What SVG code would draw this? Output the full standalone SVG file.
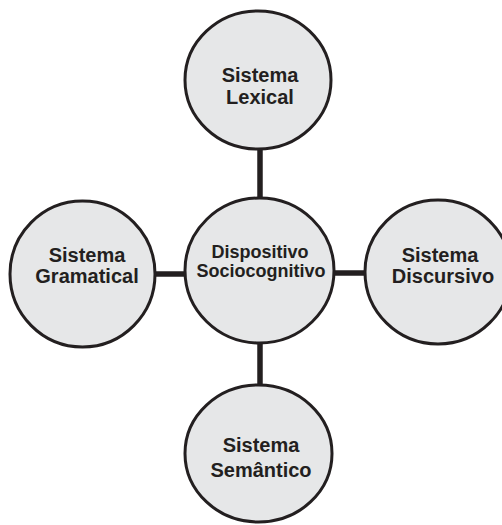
<svg xmlns="http://www.w3.org/2000/svg" width="502" height="525" viewBox="0 0 502 525">
<style>
.n{fill:#e6e7e8;stroke:#231f20;stroke-width:3}
.c{stroke:#231f20;stroke-width:5.5;fill:none}
.t{font-family:"Liberation Sans",Arial,sans-serif;font-weight:bold;font-size:20px;fill:#231f20;text-anchor:middle}
.s{font-size:18px}
</style>
<rect width="502" height="525" fill="#ffffff"/>
<g id="connectors">
<line class="c" x1="260" y1="148" x2="260" y2="199"/>
<line class="c" x1="260" y1="342" x2="260" y2="386"/>
<line class="c" x1="154" y1="274" x2="186" y2="274"/>
<line class="c" x1="333" y1="273" x2="366" y2="273"/>
</g>
<g id="lexical">
<ellipse class="n" cx="258" cy="80" rx="73" ry="69"/>
<text class="t" x="260" y="82">Sistema</text>
<text class="t" x="260" y="104">Lexical</text>
</g>
<g id="dispositivo">
<ellipse class="n" cx="259.5" cy="270.5" rx="74.5" ry="72.5"/>
<text class="t s" x="260" y="258">Dispositivo</text>
<text class="t s" x="261" y="277">Sociocognitivo</text>
</g>
<g id="gramatical">
<ellipse class="n" cx="82.5" cy="274" rx="72.5" ry="73"/>
<text class="t" x="87" y="262">Sistema</text>
<text class="t" x="87" y="283">Gramatical</text>
</g>
<g id="discursivo">
<ellipse class="n" cx="438" cy="272" rx="73" ry="72"/>
<text class="t" x="440" y="262">Sistema</text>
<text class="t" x="443" y="283">Discursivo</text>
</g>
<g id="semantico">
<ellipse class="n" cx="258.5" cy="453.5" rx="73.5" ry="68.5"/>
<text class="t" x="261" y="452">Sistema</text>
<text class="t" x="261" y="477">Semântico</text>
</g>
</svg>
